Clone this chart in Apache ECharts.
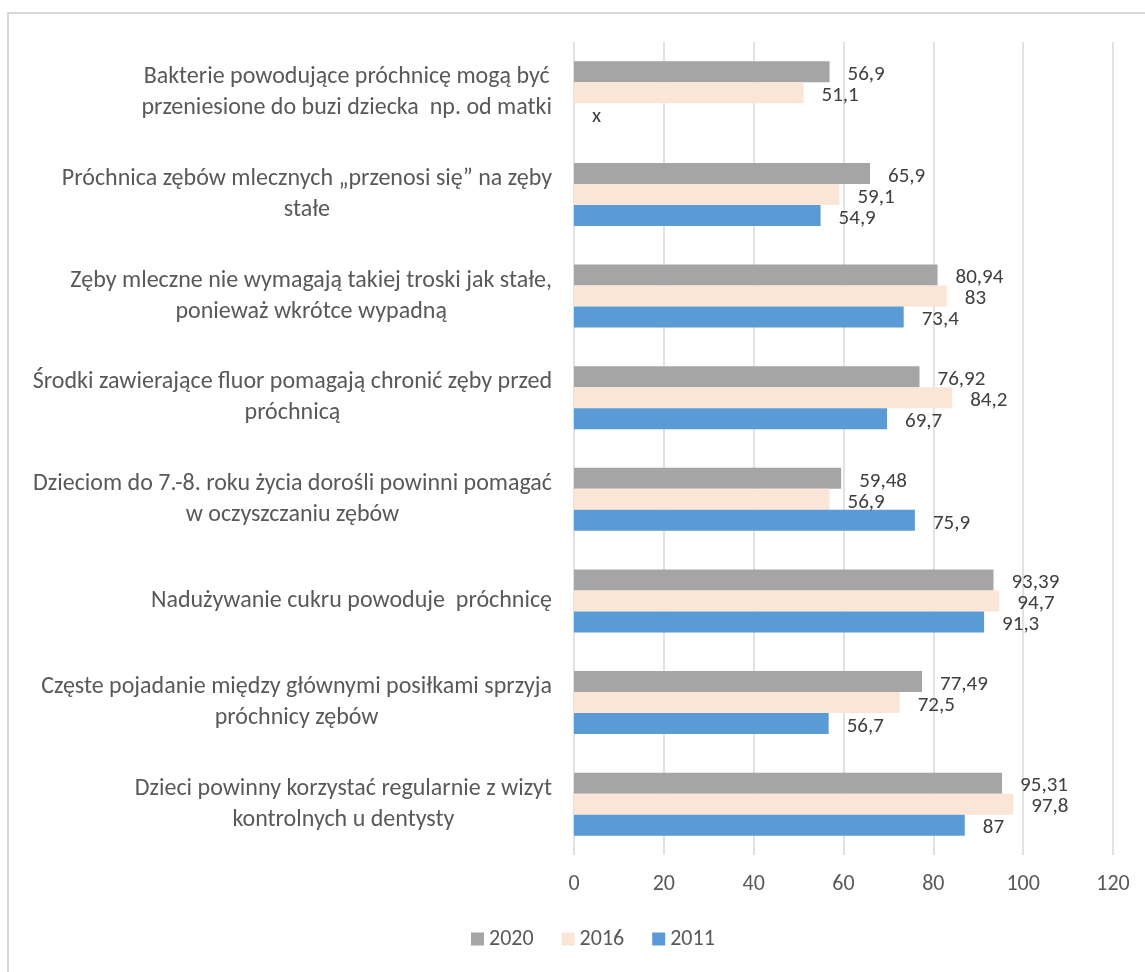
<!DOCTYPE html>
<html>
<head>
<meta charset="utf-8">
<script src="https://cdn.jsdelivr.net/npm/echarts@6/dist/echarts.min.js"></script>
<style>
  html, body { margin: 0; padding: 0; background: #ffffff; }
  #chart { width: 1145px; height: 972px; }
</style>
</head>
<body>
<div id="chart"></div>
<script>
// Statements (top to bottom), each split into its display lines
const categories = [
  'Bakterie powodujące próchnicę mogą być\nprzeniesione do buzi dziecka  np. od matki',
  'Próchnica zębów mlecznych „przenosi się” na zęby\nstałe',
  'Zęby mleczne nie wymagają takiej troski jak stałe,\nponieważ wkrótce wypadną',
  'Środki zawierające fluor pomagają chronić zęby przed\npróchnicą',
  'Dzieciom do 7.-8. roku życia dorośli powinni pomagać\nw oczyszczaniu zębów',
  'Nadużywanie cukru powoduje  próchnicę',
  'Częste pojadanie między głównymi posiłkami sprzyja\npróchnicy zębów',
  'Dzieci powinny korzystać regularnie z wizyt\nkontrolnych u dentysty'
];

// Share of correct answers (%) per survey year; null = not asked that year
const values2020 = [56.9, 65.9, 80.94, 76.92, 59.48, 93.39, 77.49, 95.31];
const values2016 = [51.1, 59.1, 83, 84.2, 56.9, 94.7, 72.5, 97.8];
const values2011 = [null, 54.9, 73.4, 69.7, 75.9, 91.3, 56.7, 87];

const seriesNames = ['2020', '2016', '2011'];
const xTicks = { min: 0, max: 120, step: 20 };
const missingMark = 'x';

const colors = ['#a5a5a5', '#fbe5d6', '#5b9bd5'];
const textColor = '#595959';
const labelColor = '#404040';
const fontFamily = 'Carlito, Calibri, Lato, sans-serif';

function fmt(v) {
  return String(v).replace('.', ',');
}

function barData(values) {
  return values.map(function (v) {
    if (v === null) {
      return { value: 0, label: { formatter: missingMark } };
    }
    return v;
  });
}

function makeSeries(name, values, color) {
  return {
    name: name,
    type: 'bar',
    data: barData(values),
    barGap: '0%',
    barCategoryGap: '38%',
    itemStyle: { color: color },
    label: {
      show: true,
      position: 'right',
      distance: 18,
      offset: [0, 3],
      color: labelColor,
      fontSize: 21,
      fontFamily: fontFamily,
      formatter: function (p) { return fmt(p.value); }
    },
    emphasis: { disabled: true }
  };
}

const chart = echarts.init(document.getElementById('chart'), null, { renderer: 'canvas' });

chart.setOption({
  animation: false,
  backgroundColor: '#ffffff',
  color: colors,
  graphic: [
    {
      type: 'polyline',
      shape: { points: [[8, 972], [8, 13], [1145, 13]] },
      style: { stroke: '#d9d9d9', lineWidth: 2, fill: null },
      silent: true
    }
  ],
  grid: { left: 574, right: 32, top: 42, bottom: 117, containLabel: false },
  legend: {
    data: seriesNames,
    bottom: 17,
    left: 466,
    itemWidth: 13,
    itemHeight: 13,
    itemGap: 28,
    icon: 'rect',
    textStyle: { color: textColor, fontSize: 22, fontFamily: fontFamily }
  },
  xAxis: {
    type: 'value',
    min: xTicks.min,
    max: xTicks.max,
    interval: xTicks.step,
    axisLine: { show: false },
    axisTick: { show: false },
    splitLine: { show: true, lineStyle: { color: '#d9d9d9', width: 1.5 } },
    axisLabel: { color: textColor, fontSize: 22, fontFamily: fontFamily, margin: 18 }
  },
  yAxis: {
    type: 'category',
    inverse: true,
    data: categories,
    axisLine: { show: false },
    axisTick: { show: false },
    axisLabel: {
      color: textColor,
      fontSize: 24,
      fontFamily: fontFamily,
      margin: 22,
      align: 'right',
      lineHeight: 31,
      formatter: function (v) {
        return v.split('\n').map(function (line) { return '{c|' + line + '}'; }).join('\n');
      },
      rich: {
        c: { align: 'center', color: textColor, fontSize: 24, fontFamily: fontFamily, lineHeight: 31 }
      }
    }
  },
  series: [
    makeSeries(seriesNames[0], values2020, colors[0]),
    makeSeries(seriesNames[1], values2016, colors[1]),
    makeSeries(seriesNames[2], values2011, colors[2])
  ]
});
</script>
</body>
</html>
